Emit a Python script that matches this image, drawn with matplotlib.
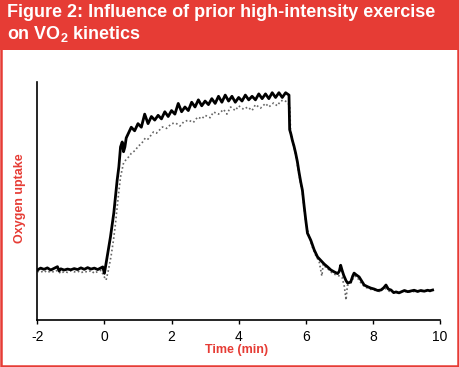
import matplotlib
matplotlib.use("Agg")
import matplotlib.pyplot as plt
from matplotlib.patches import Rectangle

# Courbe apres exercice intense prealable (trait plein)
solid_t = [-2.0, -1.9, -1.8, -1.7, -1.6, -1.5, -1.4, -1.35, -1.3, -1.2, -1.1, -1.0,
           -0.9, -0.8, -0.7, -0.6, -0.5, -0.4, -0.3, -0.2, -0.1, -0.05, 0.0,
           0.04, 0.08, 0.13, 0.18, 0.23, 0.28, 0.35, 0.38, 0.43, 0.48, 0.53, 0.57,
           0.61, 0.65,
           0.70, 0.80, 0.90, 1.00, 1.10, 1.20, 1.30, 1.40, 1.50, 1.60, 1.70, 1.80,
           1.90, 2.00, 2.10, 2.20, 2.30, 2.40, 2.50, 2.60, 2.70, 2.80, 2.90, 3.00,
           3.10, 3.20, 3.30, 3.40, 3.50, 3.60, 3.70, 3.80, 3.90, 4.00, 4.10, 4.20,
           4.30, 4.40, 4.50, 4.60, 4.70, 4.80, 4.90, 5.00, 5.10, 5.20, 5.30, 5.40,
           5.50,
           5.52, 5.56, 5.60, 5.65, 5.70, 5.75, 5.80, 5.85, 5.90, 5.95, 6.00, 6.05,
           6.15, 6.25, 6.35, 6.45, 6.55, 6.65, 6.75, 6.85, 6.95, 7.00, 7.04, 7.08,
           7.13, 7.20, 7.25, 7.34, 7.40, 7.44, 7.50, 7.59, 7.66, 7.74, 7.84, 7.94,
           8.04, 8.14, 8.24, 8.32, 8.39, 8.46, 8.54, 8.62, 8.69, 8.78, 8.84, 8.94,
           9.04, 9.13, 9.23, 9.33, 9.43, 9.53, 9.63, 9.70, 9.78]
solid_v = [21.0, 21.8, 21.3, 21.9, 21.0, 21.7, 22.4, 20.6, 21.5, 21.0, 21.4, 21.1,
           21.6, 21.2, 21.9, 21.3, 22.0, 21.4, 21.8, 21.2, 21.9, 22.3, 19.6,
           23.0, 26.5, 30.5, 34.9, 40.0, 45.0, 54.6, 58.8, 64.3, 72.7, 74.8, 70.7,
           72.7, 76.5,
           78.0, 81.0, 79.5, 82.5, 81.0, 86.5, 82.5, 85.5, 84.0, 86.0, 84.5, 87.5,
           85.5, 88.0, 86.5, 91.0, 87.5, 89.5, 88.0, 91.5, 89.5, 92.5, 90.0, 92.0,
           90.5, 93.0, 91.0, 94.0, 91.5, 94.5, 92.0, 94.0, 91.5, 93.5, 92.0, 94.5,
           92.5, 94.0, 92.5, 95.0, 93.0, 95.0, 93.0, 95.5, 93.5, 95.5, 93.5, 95.5,
           94.5,
           80.0, 78.0, 75.5, 73.0, 70.0, 66.5, 62.0, 58.0, 54.5, 48.0, 42.0, 36.5,
           33.5, 29.5, 26.5, 25.0, 23.5, 22.3, 21.0, 20.2, 19.5, 20.5, 23.0, 21.0,
           18.8, 16.5, 15.5, 16.0, 18.5, 19.7, 19.0, 18.1, 16.5, 14.7, 14.0, 13.4,
           13.0, 12.4, 12.6, 13.5, 14.7, 13.0, 12.6, 11.5, 11.8, 11.4, 11.8, 12.4,
           11.9, 12.2, 12.5, 12.0, 12.4, 12.1, 12.5, 12.3, 12.6]

# Courbe controle (pointilles)
dot_t = [-2.0, -1.9, -1.8, -1.7, -1.6, -1.5, -1.4, -1.3, -1.2, -1.1, -1.0, -0.9,
         -0.8, -0.7, -0.6, -0.5, -0.4, -0.3, -0.2, -0.1, 0.0, 0.05, 0.12, 0.2,
         0.27, 0.33, 0.38, 0.43, 0.48, 0.57, 0.65, 0.72, 0.8, 0.93, 1.0, 1.1,
         1.22, 1.3, 1.46, 1.55, 1.73, 1.85, 2.0, 2.12, 2.25, 2.36, 2.5, 2.65,
         2.78, 2.9, 3.0, 3.15, 3.25, 3.4, 3.55, 3.65, 3.76, 3.9, 4.0, 4.15,
         4.27, 4.4, 4.5, 4.65, 4.8, 4.9, 5.04, 5.15, 5.25, 5.34, 5.45, 5.52,
         5.55, 5.62, 5.70, 5.80, 5.90, 6.00, 6.10, 6.20, 6.30, 6.40, 6.48, 6.52,
         6.60, 6.70, 6.80, 6.90, 7.00, 7.08, 7.15, 7.20, 7.24, 7.34, 7.45, 7.55,
         7.65, 7.75, 7.9, 8.05, 8.2, 8.35, 8.5, 8.65, 8.8, 8.95, 9.1, 9.25,
         9.4, 9.55, 9.7, 9.78]
dot_v = [20.5, 20.0, 20.8, 19.9, 20.6, 20.1, 20.9, 19.5, 20.4, 20.0, 20.7, 20.2,
         20.6, 19.8, 20.5, 20.1, 20.8, 19.6, 20.4, 20.9, 18.0, 16.8, 21.0, 27.0,
         33.6, 40.5, 47.5, 54.0, 60.1, 66.0, 67.5, 68.5, 70.0, 71.4, 73.0, 74.0,
         76.5, 76.0, 79.0, 78.5, 81.1, 80.5, 82.5, 82.8, 81.5, 83.2, 84.0, 83.0,
         85.3, 84.5, 86.0, 85.0, 87.4, 86.5, 88.5, 86.5, 89.5, 88.0, 90.0, 88.5,
         89.5, 88.0, 90.5, 89.0, 91.0, 89.5, 91.2, 90.0, 92.0, 92.4, 91.5, 90.0,
         79.0, 74.5, 69.5, 61.0, 53.5, 41.0, 35.0, 30.5, 27.0, 24.5, 18.5, 23.5,
         22.0, 21.0, 19.5, 19.0, 18.5, 18.0, 14.0, 8.4, 14.5, 15.5, 18.5, 17.5,
         15.5, 14.0, 13.0, 12.5, 12.0, 13.5, 12.0, 11.5, 11.5, 12.0, 11.8, 12.0,
         11.9, 12.2, 12.0, 12.3]

xticks = [-2, 0, 2, 4, 6, 8, 10]

RED = "#e63c35"
sans = ["Liberation Sans", "DejaVu Sans"]

plt.rcParams["mathtext.fontset"] = "custom"
plt.rcParams["mathtext.bf"] = "Liberation Sans:bold"
plt.rcParams["mathtext.rm"] = "Liberation Sans:bold"

fig = plt.figure(figsize=(4.59, 3.67), dpi=100)

# Bandeau rouge et cadre
fig.patches.append(Rectangle((0, 1 - 50 / 367), 1, 50 / 367, transform=fig.transFigure,
                             facecolor=RED, edgecolor="none", zorder=0))
fig.patches.append(Rectangle((0.002, 0.003), 0.995, 0.99, transform=fig.transFigure,
                             facecolor="none", edgecolor=RED, lw=1.8, zorder=0))

fig.text(7 / 459, 1 - 4 / 367, "Figure 2: Influence of prior high-intensity exercise",
         color="white", fontsize=13, fontweight="bold", family=sans, va="top")
fig.text(7 / 459, 1 - 24 / 367, r"on VO$_\mathbf{2}$ kinetics",
         color="white", fontsize=13, fontweight="bold", family=sans, va="top")

ax = fig.add_axes([37.3 / 459, 47 / 367, (440 - 37.3) / 459, 238 / 367])
ax.plot(dot_t, dot_v, color="#666666", lw=1.2, ls=(0, (1, 1.5)))
ax.plot(solid_t, solid_v, color="black", lw=2.0)

ax.set_xlim(-2, 10)
ax.set_ylim(0, 100)
ax.set_xticks(xticks)
ax.set_xticklabels([str(v) for v in xticks], fontsize=10, family="Liberation Sans")
ax.set_yticks([])
ax.tick_params(axis="x", direction="out", length=3, width=1, pad=4)
for s in ["top", "right"]:
    ax.spines[s].set_visible(False)
for s in ["left", "bottom"]:
    ax.spines[s].set_linewidth(1.2)

fig.text(237 / 459, 1 - 350 / 367, "Time (min)", color=RED, fontsize=9,
         fontweight="bold", family=sans, ha="center", va="center")
fig.text(20 / 459, 1 - 198 / 367, "Oxygen uptake", color=RED, fontsize=9,
         fontweight="bold", family=sans, ha="center", va="center", rotation=90)

fig.savefig("out.png", dpi=100)
